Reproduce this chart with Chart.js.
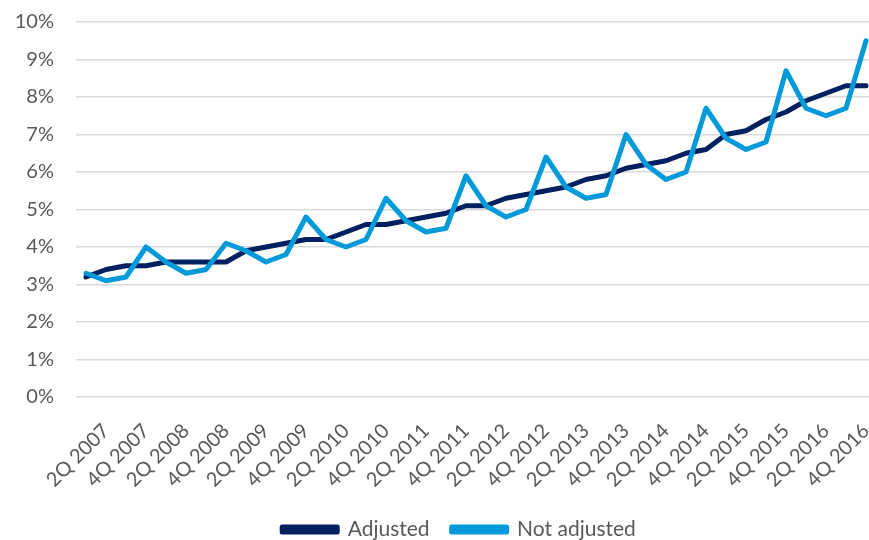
<!DOCTYPE html>
<html>
<head>
<meta charset="utf-8">
<script src="https://cdn.jsdelivr.net/npm/chart.js@4/dist/chart.umd.min.js"></script>
<style>
html,body{margin:0;padding:0;background:#fff;overflow:hidden;width:869px;height:540px;}
#wrap{width:880px;height:540px;}
</style>
</head>
<body>
<div id="wrap"><canvas id="c" width="880" height="540"></canvas></div>
<script>
const quarters = [];
for (let y = 2007; y <= 2016; y++) { for (let q = 1; q <= 4; q++) quarters.push(q + 'Q ' + y); }

const adjusted = [3.2,3.4,3.5,3.5,3.6,3.6,3.6,3.6,3.9,4.0,4.1,4.2,4.2,4.4,4.6,4.6,4.7,4.8,4.9,5.1,
                  5.1,5.3,5.4,5.5,5.6,5.8,5.9,6.1,6.2,6.3,6.5,6.6,7.0,7.1,7.4,7.6,7.9,8.1,8.3,8.3];
const notAdjusted = [3.3,3.1,3.2,4.0,3.6,3.3,3.4,4.1,3.9,3.6,3.8,4.8,4.2,4.0,4.2,5.3,4.7,4.4,4.5,5.9,
                     5.1,4.8,5.0,6.4,5.6,5.3,5.4,7.0,6.2,5.8,6.0,7.7,6.9,6.6,6.8,8.7,7.7,7.5,7.7,9.5];
const yMin = 0, yMax = 10, yStep = 1;

const FONT = 'Lato, "DejaVu Sans", sans-serif';
const GREY = '#595959';

const shiftLegend = {
  id: 'shiftLegend',
  afterLayout(chart) {
    const l = chart.legend;
    if (l) { l.left += 21; l.right += 21; }
  }
};

function zeroPad(s) { s.paddingTop = 0; s.paddingBottom = 0; s.paddingLeft = 0; s.paddingRight = 0; }

new Chart(document.getElementById('c'), {
  type: 'line',
  data: {
    labels: quarters,
    datasets: [
      { label: 'Adjusted', data: adjusted, borderColor: '#002060', backgroundColor: '#002060',
        borderWidth: 5, pointRadius: 0, tension: 0, borderCapStyle: 'round', borderJoinStyle: 'round', order: 1 },
      { label: 'Not adjusted', data: notAdjusted, borderColor: '#009ADA', backgroundColor: '#009ADA',
        borderWidth: 5, pointRadius: 0, tension: 0, borderCapStyle: 'round', borderJoinStyle: 'round', order: 0 }
    ]
  },
  plugins: [shiftLegend],
  options: {
    responsive: false,
    animation: false,
    layout: { autoPadding: false, padding: { left: 0, right: 4, top: 22, bottom: -10 } },
    plugins: {
      tooltip: { enabled: false },
      legend: {
        position: 'bottom',
        labels: {
          sort: (a, b) => a.datasetIndex - b.datasetIndex,
          boxWidth: 55, boxHeight: 5, padding: 22,
          color: GREY, font: { family: FONT, size: 21 }
        }
      }
    },
    scales: {
      x: {
        offset: true,
        grid: { display: false },
        border: { display: false },
        ticks: {
          autoSkip: false, maxRotation: 45, minRotation: 45, padding: 14,
          color: GREY, font: { family: FONT, size: 20 },
          callback: function(v, i) { return i % 2 === 1 ? quarters[i] : ''; }
        },
        afterFit: function(s) { s.height = 100; zeroPad(s); }
      },
      y: {
        min: yMin, max: yMax,
        grid: { color: '#d9d9d9', lineWidth: 1.5, drawTicks: false },
        border: { display: false },
        ticks: { stepSize: yStep, padding: 22, color: GREY, font: { family: FONT, size: 20 },
                 callback: v => v + '%' },
        afterFit: function(s) { s.width = 76; zeroPad(s); }
      }
    }
  }
});
</script>
</body>
</html>
